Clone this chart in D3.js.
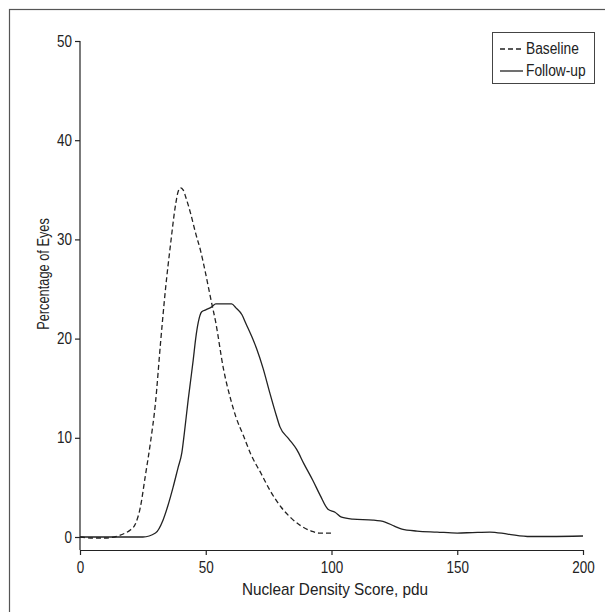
<!DOCTYPE html>
<html>
<head>
<meta charset="utf-8">
<script src="https://cdn.jsdelivr.net/npm/d3@7"></script>
<style>
  body { margin: 0; background: #fff; overflow: hidden; }
  svg { display: block; }
  svg text { font-family: "Liberation Sans", Arial, sans-serif; fill: #222; }
</style>
</head>
<body>
<script>
// Chart data
const seriesNames = ["Baseline", "Follow-up"];

const baselineX = [0, 5, 10, 15, 18, 20, 22, 24, 26, 28, 30, 32, 34, 36, 38, 39, 40, 41, 42, 44, 46, 48, 50, 52, 54, 57, 60, 62, 65, 68, 72, 76, 80, 84, 88, 92, 95, 100];
const baselineY = [0, -0.1, -0.1, 0.1, 0.4, 0.7, 1.3, 3.0, 6.2, 9.5, 13.5, 19.5, 25, 29.5, 33.5, 34.8, 35.2, 35.0, 34.3, 32.6, 30.6, 28.8, 26.5, 24.0, 21.6, 17.0, 13.8, 12.1, 10.2, 8.3, 6.4, 4.5, 3.0, 1.9, 1.1, 0.6, 0.4, 0.4];

const followX = [0, 10, 20, 25, 30, 33, 35, 37, 39, 40.5, 41.5, 43, 44, 45, 46, 47, 48.4, 50, 52.4, 54, 60.3, 62, 64.4, 66, 68.3, 70.2, 72.8, 75.5, 78, 79.5, 83, 86.2, 89, 92.6, 95.5, 98.6, 101.4, 104, 108.5, 116.5, 121.3, 125, 128, 134, 142, 150, 156, 163, 170, 179, 187, 200];
const followY = [0, 0, 0, 0, 0.4, 1.7, 3.2, 5.0, 7.0, 8.5, 10.5, 13.8, 15.8, 17.8, 20.0, 21.6, 22.7, 22.9, 23.2, 23.5, 23.5, 23.1, 22.4, 21.5, 20.2, 19.0, 17.0, 14.5, 12.3, 11.1, 9.9, 8.8, 7.4, 5.7, 4.2, 2.8, 2.5, 2.0, 1.8, 1.7, 1.5, 1.1, 0.8, 0.6, 0.5, 0.4, 0.45, 0.5, 0.3, 0.05, 0.05, 0.1];

const xTicks = [0, 50, 100, 150, 200];
const yTicks = [0, 10, 20, 30, 40, 50];

const width = 605, height = 612;

// squeeze text horizontally to mimic a condensed face
function condense(sel, factor) {
    sel.each(function() {
        const w = this.getComputedTextLength();
        d3.select(this)
            .attr("textLength", w * factor)
            .attr("lengthAdjust", "spacingAndGlyphs");
    });
}

const svg = d3.select("body")
      .append("svg")
      .attr("width", width)
      .attr("height", height);

// outer frame (only left and top edges fall inside the picture)
svg.append("rect")
    .attr("x", 9.5).attr("y", 9.5)
    .attr("width", 800).attr("height", 800)
    .attr("fill", "none")
    .attr("stroke", "#555")
    .attr("stroke-width", 1.2);

const x = d3.scaleLinear().domain([0, 200]).range([80, 583]);
const y = d3.scaleLinear().domain([0, 50]).range([537, 41]);
const axisY = 550;

// x axis
const xAxis = svg.append("g")
    .attr("transform", `translate(0,${axisY})`)
    .call(d3.axisBottom(x).tickValues(xTicks).tickSize(5).tickSizeOuter(0).tickPadding(7));
xAxis.select(".domain").attr("stroke", "#222").attr("stroke-width", 1.2);
xAxis.selectAll(".tick line").attr("stroke", "#222").attr("stroke-width", 1.2);
xAxis.selectAll("text").attr("font-size", 16).attr("font-family", null).call(condense, 0.84);

// y axis
const yAxis = svg.append("g")
    .attr("transform", "translate(80,0)")
    .call(d3.axisLeft(y).tickValues(yTicks).tickSize(5).tickPadding(3));
yAxis.select(".domain").remove();
yAxis.selectAll(".tick line").attr("stroke", "#222").attr("stroke-width", 1.2);
yAxis.selectAll("text").attr("font-size", 16).attr("font-family", null).call(condense, 0.84);
svg.append("line")
    .attr("x1", 80).attr("x2", 80)
    .attr("y1", y(50)).attr("y2", axisY)
    .attr("stroke", "#222").attr("stroke-width", 1.2);

// axis titles
svg.append("text")
    .attr("x", 335).attr("y", 595)
    .attr("text-anchor", "middle")
    .attr("font-size", 17)
    .text("Nuclear Density Score, pdu")
    .call(condense, 0.9);

svg.append("text")
    .attr("transform", "translate(49,274) rotate(-90)")
    .attr("text-anchor", "middle")
    .attr("font-size", 16)
    .text("Percentage of Eyes")
    .call(condense, 0.8);

// lines
const line = d3.line()
    .x(d => x(d[0]))
    .y(d => y(d[1]))
    .curve(d3.curveMonotoneX);

svg.append("path")
    .datum(d3.zip(baselineX, baselineY))
    .attr("d", line)
    .attr("fill", "none")
    .attr("stroke", "#222")
    .attr("stroke-width", 1.3)
    .attr("stroke-dasharray", "5,3");

svg.append("path")
    .datum(d3.zip(followX, followY))
    .attr("d", line)
    .attr("fill", "none")
    .attr("stroke", "#222")
    .attr("stroke-width", 1.3);

// legend
const legend = svg.append("g");
legend.append("rect")
    .attr("x", 492.5).attr("y", 32.5)
    .attr("width", 102).attr("height", 51)
    .attr("fill", "#fff")
    .attr("stroke", "#444")
    .attr("stroke-width", 1);

seriesNames.forEach((name, i) => {
    const ly = 49 + i * 22;
    legend.append("line")
        .attr("x1", 500).attr("x2", 523)
        .attr("y1", ly).attr("y2", ly)
        .attr("stroke", "#222")
        .attr("stroke-width", 1.3)
        .attr("stroke-dasharray", i === 0 ? "5,3" : null);
    legend.append("text")
        .attr("x", 526).attr("y", ly + 5)
        .attr("font-size", 16)
        .text(name)
        .call(condense, 0.86);
});
</script>
</body>
</html>
